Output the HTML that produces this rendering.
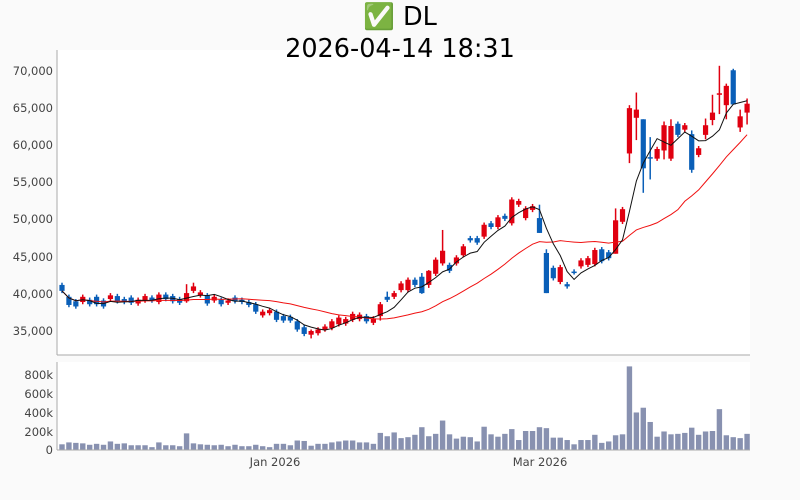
<!DOCTYPE html>
<html><head><meta charset="utf-8"><style>
body{margin:0;background:#fafafa;}
svg{display:block;font-family:"DejaVu Sans","Liberation Sans",sans-serif;}
</style></head><body>
<svg id="s" width="800" height="500" xmlns="http://www.w3.org/2000/svg">
<rect x="0" y="0" width="800" height="500" fill="#fafafa"/>
<rect x="57" y="50" width="693" height="305" fill="#fff"/>
<rect x="57" y="362" width="693" height="88" fill="#fff"/>
<text x="400" y="25" font-size="25.5" text-anchor="middle" fill="#000">✅ DL</text>
<text x="400" y="57" font-size="25.5" text-anchor="middle" fill="#000">2026-04-14 18:31</text>
<g font-size="11.5" fill="#444" text-anchor="end">
<text x="53" y="75">70,000</text>
<text x="53" y="112">65,000</text>
<text x="53" y="149">60,000</text>
<text x="53" y="186">55,000</text>
<text x="53" y="223">50,000</text>
<text x="53" y="261">45,000</text>
<text x="53" y="298">40,000</text>
<text x="53" y="335">35,000</text>
<text x="53" y="379">800k</text>
<text x="53" y="398">600k</text>
<text x="53" y="417">400k</text>
<text x="53" y="436">200k</text>
<text x="53" y="454">0</text>
</g>
<g font-size="11.5" fill="#444" text-anchor="middle">
<text x="275" y="466">Jan 2026</text>
<text x="540" y="466">Mar 2026</text>
</g>
<g id="g"></g>
<line x1="57" y1="50" x2="57" y2="355" stroke="#aaa"/>
<line x1="57" y1="355" x2="750" y2="355" stroke="#aaa"/>
<line x1="57" y1="362" x2="57" y2="450" stroke="#aaa"/>
<line x1="57" y1="450" x2="750" y2="450" stroke="#aaa"/>
</svg>
<script>
var D=[[41.2,40.4],[39.6,38.5],[39.0,38.3],[38.9,39.6],[39.2,38.6],[39.6,38.6],[39.1,38.3],[39.3,39.8],[39.7,39.0],[39.3,38.9],
[39.5,38.8],[38.7,39.2],[39.1,39.7],[39.5,39.1],[38.9,39.9],[39.9,39.3],[39.7,39.0],[39.3,38.8],[39.0,40.1],[40.4,41.0],
[39.8,40.2],[39.8,38.7],[39.1,39.6],[39.2,38.6],[38.8,39.1],[39.5,39.0],[39.2,38.9],[38.9,38.5],[38.6,37.6],[37.1,37.6],
[37.4,37.8],[37.6,36.5],[37.0,36.4],[36.9,36.4],[36.3,35.2],[35.5,34.6],[34.5,35.0],[34.7,35.2],[35.2,35.6],[35.4,36.3],
[35.9,36.8],[36.0,36.6],[36.5,37.3],[36.6,37.2],[37.0,36.3],[36.1,36.7],[37.0,38.6],[39.6,39.2],[39.6,40.1],[40.5,41.4],
[40.5,41.9],[41.9,41.2],[42.3,40.1],[41.2,43.1],[42.7,44.6],[44.1,45.8],[43.9,43.1],[44.1,44.9],[45.2,46.4],[47.5,47.2],
[47.5,46.9],[47.7,49.3],[49.5,49.0],[49.0,50.3],[50.5,50.1],[49.5,52.7],[52.0,52.5],[50.2,51.5],[51.3,51.8],[50.2,48.2],
[45.5,40.1],[43.5,42.1],[41.6,43.6],[41.3,41.0],[43.0,42.9],[43.7,44.5],[43.9,44.8],[44.0,45.9],[46.0,44.4],[45.6,44.8],
[45.4,49.9],[49.7,51.4],[58.9,65.0],[63.7,64.8],[63.5,56.9],[58.4,58.3],[58.2,59.5],[59.3,62.7],[58.2,62.6],[62.9,61.4],
[62.1,62.7],[61.5,56.7],[58.7,59.6],[61.4,62.7],[63.4,64.4],[66.8,67.0],[65.4,68.0],[70.1,65.5],[62.4,63.9],[64.4,65.6]];
var W={18:[41.3,38.8],19:[41.5,40.1],46:[38.9,36.4],47:[40.3,38.9],55:[48.6,43.8],69:[52,48.2],70:[46,40.1],72:[41.3,43.9],80:[45.4,51.5],82:[65.4,57.6],83:[67.1,60.7],84:[63.5,53.6],85:[61.1,55.4],87:[63.2,58.1],88:[63.5,57.9],91:[62,56.3],93:[63.6,60.8],94:[66.8,62.7],95:[70.7,64.2],96:[68.3,63.5],97:[70.3,65.5],98:[64.8,61.8],99:[66.3,62.8],52:[42.8,40.0],53:[43.2,40.8],36:[35.2,34.0]};
var V=[60,80,75,70,55,65,55,90,65,70,50,50,50,30,80,50,50,40,175,70,60,55,50,55,40,55,40,40,55,40,30,65,65,50,100,95,45,65,65,80,90,100,100,80,80,65,180,145,185,125,135,160,240,145,170,310,165,120,140,135,90,245,165,140,170,220,105,200,200,240,230,130,130,105,60,105,105,160,75,90,155,165,880,395,445,295,140,195,165,170,180,235,160,195,200,430,155,135,125,170];
function Y(p){return 71+(70-p)*7.428;}
function X(i){return 62+i*6.92;}
var h='';
for(var i=0;i<100;i++){
 var o=D[i][0],c=D[i][1],w=W[i],hi=w?w[0]:Math.max(o,c)+0.3,lo=w?w[1]:Math.min(o,c)-0.3;
 var col=c>=o?'#e00010':'#0a5fb8',x=X(i);
 h+='<line x1="'+x+'" x2="'+x+'" y1="'+Y(hi)+'" y2="'+Y(lo)+'" stroke="'+col+'" stroke-width="1.5"/>';
 var t=Y(Math.max(o,c)),b=Y(Math.min(o,c));if(b-t<1.5)b=t+1.5;
 h+='<rect x="'+(x-2.6)+'" y="'+t+'" width="5.2" height="'+(b-t)+'" fill="'+col+'"/>';
 var vh=V[i]*0.095;
 h+='<rect x="'+(x-2.7)+'" y="'+(450-vh)+'" width="5.4" height="'+vh+'" fill="#8891b0"/>';
}
function ma(n,st){var p='';for(var i=0;i<100;i++){var s=0,k=0;for(var j=Math.max(0,i-n+1);j<=i;j++){s+=D[j][1];k++;}p+=(i?'L':'M')+X(i)+','+Y(s/k);}return '<path d="'+p+'" fill="none" stroke="'+st+'" stroke-width="1"/>';}
h+=ma(20,'#f01010')+ma(5,'#111');
document.getElementById('g').innerHTML=h;
</script>
</body></html>
